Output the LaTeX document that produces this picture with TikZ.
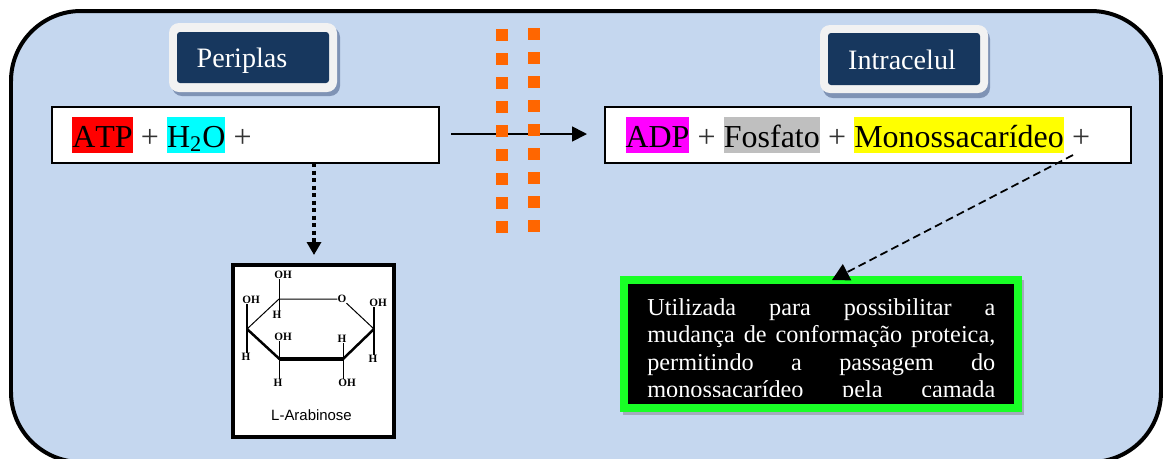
\documentclass[tikz,border=0pt]{standalone}
\usepackage{fontspec}
\setmainfont[Kerning=Off]{Liberation Serif}
\setsansfont{Liberation Sans}
\usetikzlibrary{positioning,arrows.meta}
\definecolor{panelblue}{HTML}{C5D7EF}
\definecolor{tagnavy}{HTML}{17375E}
\definecolor{tagrim}{HTML}{F2F2F2}
\definecolor{tagshade}{HTML}{7F93B5}
\definecolor{dotorange}{HTML}{FF6600}
\definecolor{greenrim}{HTML}{19FF26}
\definecolor{boxshade}{HTML}{A3ABBD}
\definecolor{fosfgray}{HTML}{BFBFBF}
\definecolor{atpred}{HTML}{FF0000}
\definecolor{watercyan}{HTML}{00FFFF}
\definecolor{adpmagenta}{HTML}{FF00FF}
\definecolor{monoyellow}{HTML}{FFFF00}
\tikzset{
	eqtext/.style={inner sep=0pt, text height=0.6cm, text depth=0.12cm, font=\fontsize{18.2}{20}\selectfont},
	hilite/.style={eqtext},
	sumsign/.style={eqtext, text=black!80},
	eqbox/.style={draw, fill=white, line width=0.04cm},
	tagtext/.style={text=white, font=\fontsize{16}{18}\selectfont},
	sqdot/.style={fill=dotorange, minimum size=0.24cm, inner sep=0pt},
	atomlab/.style={inner sep=0pt, font=\bfseries\fontsize{6.4}{7}\selectfont}
}
\begin{document}
\begin{tikzpicture}[x=0.02cm, y=-0.02cm]
	\useasboundingbox (0,0) rectangle (1163,458);
	\begin{scope}
		\clip (0,0) rectangle (1163,458);
		\fill[white] (0,0) rectangle (1163,458);
		\draw[line width=0.08cm, fill=panelblue, rounded corners=1.4cm] (11,11) rectangle (1161,462);
	\end{scope}

	% labels above the boxes
	\fill[tagshade, rounded corners=0.2cm] (172,27) rectangle (340,96);
	\fill[tagrim, rounded corners=0.2cm] (169,23) rectangle (337,92);
	\fill[tagnavy, rounded corners=0.06cm] (177,32) rectangle (329,83);
	\node[tagtext] (periplas) at (242,61) {Periplas};

	\fill[tagshade, rounded corners=0.2cm] (823,29) rectangle (990,98);
	\fill[tagrim, rounded corners=0.2cm] (820,25) rectangle (988,93);
	\fill[tagnavy, rounded corners=0.06cm] (828,33) rectangle (980,85);
	\node[tagtext] (intracelul) at (902,60) {Intracelul};

	% equation boxes
	\draw[eqbox] (52,106.5) rectangle (439,163);
	\draw[eqbox] (605,106.5) rectangle (1131,163);
	\node[hilite, fill=atpred] (atp) at (102.5,135) {ATP};
	\node[sumsign, right=0.15cm of atp] (plusa) {+};
	\node[hilite, fill=watercyan, right=0.15cm of plusa] (water) {H\textsubscript{2}O};
	\node[sumsign, right=0.15cm of water] (plusb) {+};
	\node[hilite, fill=adpmagenta] (adp) at (657.5,135) {ADP};
	\node[sumsign, right=0.15cm of adp] (plusc) {+};
	\node[hilite, fill=fosfgray, right=0.15cm of plusc] (fosfato) {Fosfato};
	\node[sumsign, right=0.15cm of fosfato] (plusd) {+};
	\node[hilite, fill=monoyellow, right=0.15cm of plusd] (mono) {Monossacarídeo};
	\node[sumsign, right=0.15cm of mono] (pluse) {+};

	% membrane
	\coordinate (flowstart) at (451,134);
	\coordinate (flowend) at (587,134);
	\draw[-{Triangle[length=0.3cm,width=0.3cm]}, line width=0.035cm] (flowstart) -- (flowend);
	\foreach \row in {0,...,8}{
		\node[sqdot] (dotl\row) at (502,{35+24*\row}) {};
		\node[sqdot] (dotr\row) at (533.5,{33.5+24*\row}) {};
	}

	% sugar
	\node[draw, fill=white, line width=0.08cm, minimum width=3.22cm, minimum height=3.44cm, inner sep=0pt] (sugar) at (313.5,351) {};
	\coordinate (ca) at (279,299);
	\coordinate (cb) at (247,329);
	\coordinate (cc) at (279.5,359);
	\coordinate (cd) at (343,359);
	\coordinate (ce) at (374,329);
	\node[atomlab] (ringo) at (342,299) {O};
	\draw[line width=0.02cm] (cb) -- (ca) -- (ringo) -- (ce);
	\draw[line width=0.05cm] (cb) -- (cc);
	\draw[line width=0.05cm] (cd) -- (ce);
	\draw[line width=0.08cm] (cc) -- (cd);
	\node[atomlab] (oha) at (283,275) {OH};
	\node[atomlab] (hab) at (277,315) {H};
	\node[atomlab] (ohb) at (251,300) {OH};
	\node[atomlab] (hb) at (246,357) {H};
	\node[atomlab] (ohc) at (283,337) {OH};
	\node[atomlab] (hc) at (278,383) {H};
	\node[atomlab] (hd) at (342,339) {H};
	\node[atomlab] (ohd) at (347,383) {OH};
	\node[atomlab] (ohe) at (378,303) {OH};
	\node[atomlab] (he) at (373,359) {H};
	\draw[line width=0.02cm] (oha.south -| ca) -- (hab.north -| ca);
	\draw[line width=0.03cm] (ohb.south -| cb) -- (hb.north -| cb);
	\draw[line width=0.02cm] (ohc.south -| cc) -- (hc.north -| cc);
	\draw[line width=0.02cm] (hd.south -| cd) -- (ohd.north -| cd);
	\draw[line width=0.03cm] (ohe.south -| ce) -- (he.north -| ce);
	\node[inner sep=0pt, font=\sffamily\fontsize{8.5}{10}\selectfont] (sugarname) at (311.5,415) {L-Arabinose};
	\coordinate (dropstart) at (314,163);
	\coordinate (dropend) at (314,255);
	\draw[-{Triangle[length=0.26cm,width=0.28cm]}, line width=0.08cm, dotted] (dropstart) -- (dropend);

	% note box
	\fill[boxshade] (623,280) rectangle (1024,415);
	\fill[greenrim] (620,276) rectangle (1022,412);
	\fill[black] (628,283.5) rectangle (1014,404);
	\begin{scope}
		\clip (628,283.5) rectangle (1014,396);
		\node[text=white, anchor=north west, inner sep=0pt, text width=6.96cm, align=left,
			font=\fontsize{13.8}{15.6}\selectfont] (note) at (647,298)
			{Utilizada \hfill para \hfill possibilitar \hfill a\\
			mudança \hfill de \hfill conformação \hfill proteica,\\
			permitindo \hfill a \hfill passagem \hfill do\\
			monossacarídeo \hfill pela \hfill camada};
	\end{scope}
	\coordinate (monofoot) at (1073,155);
	\coordinate (notetop) at (832,280);
	\draw[dash pattern=on 4.5pt off 2.5pt, line width=0.035cm, -{Triangle[length=0.34cm,width=0.36cm]}] (monofoot) -- (notetop);
\end{tikzpicture}
\end{document}
